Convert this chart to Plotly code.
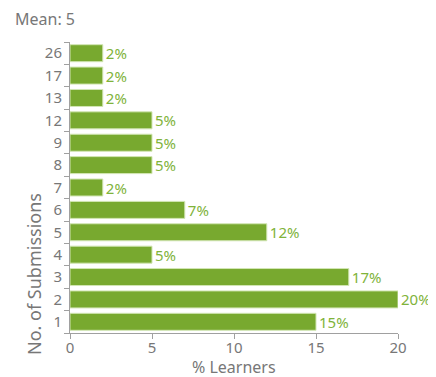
import plotly.graph_objects as go

submissions = ["1", "2", "3", "4", "5", "6", "7", "8", "9", "12", "13", "17", "26"]
pct_learners = [15, 20, 17, 5, 12, 7, 2, 5, 5, 5, 2, 2, 2]
x_ticks = [0, 5, 10, 15, 20]
mean_value = 5

GREEN = "#78a92f"
LABEL_GREEN = "#80b33a"
GREY = "#777777"
AXIS = "#a0a0a0"
FONT = "Noto Sans"

# page is drawn with an 8px body offset, so the figure is 8px smaller
W, H = 428, 369
L, R, T, B = 62, 38, 34, 44
PW, PH = W - L - R, H - T - B

fig = go.Figure(go.Bar(
    y=submissions,
    x=pct_learners,
    orientation="h",
    marker=dict(color=GREEN, line=dict(color="#d2e6b4", width=1)),
    text=[f"{v}%" for v in pct_learners],
    textposition="outside",
    constraintext="none",
    textfont=dict(color=LABEL_GREEN, size=15, family=FONT),
    cliponaxis=False,
    width=0.76,
))

fig.update_layout(
    width=W, height=H,
    margin=dict(l=L, r=R, t=T, b=B),
    plot_bgcolor="white", paper_bgcolor="white",
    showlegend=False,
    font=dict(family=FONT, color=GREY, size=15),
    xaxis=dict(
        range=[0, 20], tickvals=x_ticks, showgrid=False, zeroline=False,
        showline=True, linecolor=AXIS, linewidth=1, automargin=False,
        ticks="outside", ticklen=5, tickcolor=AXIS,
        tickfont=dict(size=15, color=GREY), ticklabelstandoff=-4,
    ),
    yaxis=dict(
        type="category", categoryorder="array", categoryarray=submissions,
        showgrid=False, zeroline=False, showline=True, linecolor=AXIS, linewidth=1,
        ticks="outside", ticklen=5, tickcolor=AXIS, tickson="boundaries",
        automargin=False,
        tickfont=dict(size=15, color=GREY), ticklabelstandoff=4,
    ),
    annotations=[
        dict(text=f"Mean: {mean_value}", xref="paper", yref="paper",
             x=-L / PW, y=1 + T / PH, xanchor="left", yanchor="middle",
             xshift=5, yshift=-11, showarrow=False,
             font=dict(size=16, color=GREY, family=FONT)),
        dict(text="No. of Submissions", xref="paper", yref="paper",
             x=0, y=0, xanchor="center", yanchor="bottom", textangle=-90,
             xshift=-36, yshift=-24, showarrow=False,
             font=dict(size=18, color=GREY, family=FONT)),
        dict(text="% Learners", xref="paper", yref="paper",
             x=0.5, y=0, xanchor="center", yanchor="middle",
             yshift=-34, showarrow=False,
             font=dict(size=16, color=GREY, family=FONT)),
    ],
)

fig.write_html("out.html")
